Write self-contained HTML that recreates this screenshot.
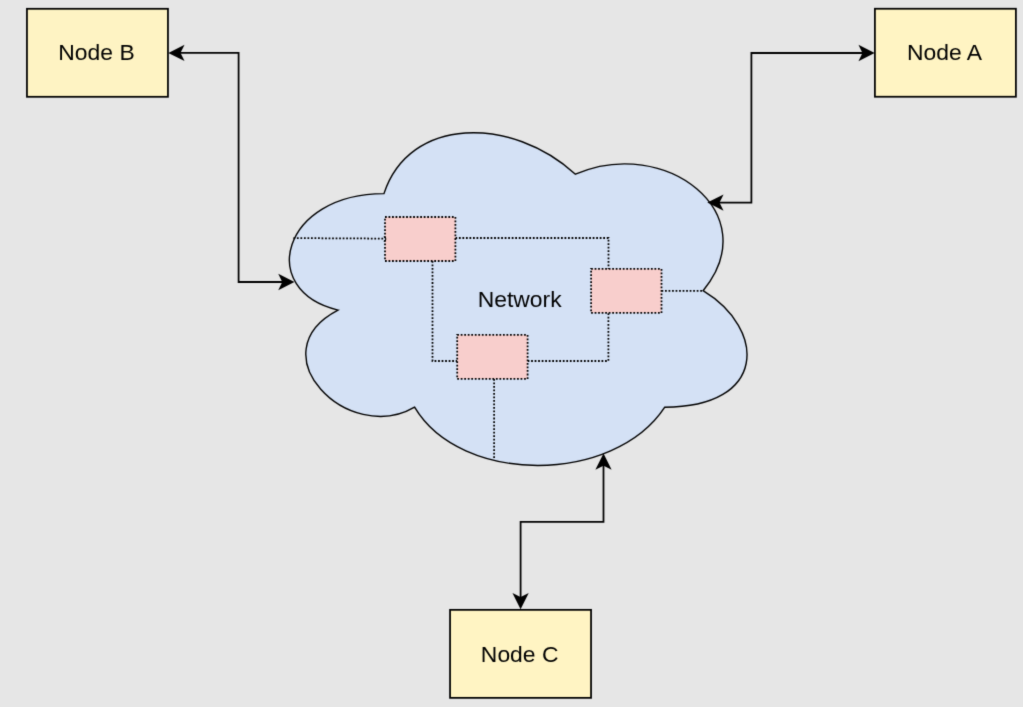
<!DOCTYPE html>
<html><head><meta charset="utf-8"><title>Network diagram</title>
<style>html,body{margin:0;padding:0;background:#e6e6e6;}body{width:1023px;height:707px;overflow:hidden;position:relative;font-family:"Liberation Sans",sans-serif;}</style>
</head><body>
<svg width="1023" height="707" viewBox="0 0 1023 707" style="position:absolute;left:0;top:0;will-change:transform;opacity:0.999">
<defs><filter id="soft" x="0" y="0" width="1023" height="707" filterUnits="userSpaceOnUse" color-interpolation-filters="sRGB"><feConvolveMatrix order="3" kernelMatrix="0.01440 0.09120 0.01440 0.09120 0.57760 0.09120 0.01440 0.09120 0.01440" divisor="1" edgeMode="duplicate" preserveAlpha="true"/></filter></defs>
<g filter="url(#soft)">
<rect width="1023" height="707" fill="#e6e6e6"/>
<rect x="26.95" y="8.80" width="141.00" height="88.00" fill="#fff4c3" stroke="#000" stroke-width="1.76"/>
<rect x="874.90" y="8.75" width="141.00" height="88.00" fill="#fff4c3" stroke="#000" stroke-width="1.76"/>
<rect x="450.05" y="609.85" width="141.00" height="88.00" fill="#fff4c3" stroke="#000" stroke-width="1.76"/>
<path d="M383.95 193.62 C281.83 193.62 256.30 290.70 338.00 310.12 C256.30 352.83 348.21 446.02 414.59 407.19 C460.54 484.85 613.72 484.85 664.78 407.19 C766.90 407.19 766.90 329.53 703.08 290.70 C766.90 213.04 664.78 135.38 575.42 174.21 C511.60 115.97 409.48 115.97 383.95 193.62 Z" fill="#d4e1f5" stroke="#000" stroke-width="1.40" stroke-miterlimit="10"/>
<path d="M293.40 238.10 L385.00 238.60" fill="none" stroke="#000" stroke-width="1.76" stroke-dasharray="1.76 1.76" stroke-miterlimit="10"/>
<path d="M455.40 238.00 L608.50 238.00 L608.50 268.90" fill="none" stroke="#000" stroke-width="1.76" stroke-dasharray="1.76 1.76" stroke-miterlimit="10"/>
<path d="M432.50 261.00 L432.50 361.00 L457.20 361.00" fill="none" stroke="#000" stroke-width="1.76" stroke-dasharray="1.76 1.76" stroke-miterlimit="10"/>
<path d="M527.60 361.00 L608.40 361.00 L608.40 312.90" fill="none" stroke="#000" stroke-width="1.76" stroke-dasharray="1.76 1.76" stroke-miterlimit="10"/>
<path d="M661.50 290.90 L703.20 290.90" fill="none" stroke="#000" stroke-width="1.76" stroke-dasharray="1.76 1.76" stroke-miterlimit="10"/>
<path d="M494.10 378.90 L494.10 459.00" fill="none" stroke="#000" stroke-width="1.76" stroke-dasharray="1.76 1.76" stroke-miterlimit="10"/>
<rect x="385.00" y="217.00" width="70.40" height="44.00" fill="#f8cecc" stroke="#000" stroke-width="1.76" stroke-dasharray="1.76 1.76"/>
<rect x="591.10" y="268.90" width="70.40" height="44.00" fill="#f8cecc" stroke="#000" stroke-width="1.76" stroke-dasharray="1.76 1.76"/>
<rect x="457.20" y="334.90" width="70.40" height="44.00" fill="#f8cecc" stroke="#000" stroke-width="1.76" stroke-dasharray="1.76 1.76"/>
<path d="M384.2 236.8 Q387.4 239.0 384.2 241.3" fill="none" stroke="#000" stroke-width="1.1" stroke-linecap="round"/>
<path d="M179.51 52.95 L238.60 52.95 L238.60 282.00 L283.29 282.00" fill="none" stroke="#000" stroke-width="1.76" stroke-miterlimit="10"/>
<path d="M170.27 52.95 L182.59 46.79 L179.51 52.95 L182.59 59.11 Z" fill="#000" stroke="#000" stroke-width="1.76" stroke-miterlimit="10"/>
<path d="M292.53 282.00 L280.21 288.16 L283.29 282.00 L280.21 275.84 Z" fill="#000" stroke="#000" stroke-width="1.76" stroke-miterlimit="10"/>

<path d="M863.49 53.00 L751.40 53.00 L751.40 202.60 L718.51 202.60" fill="none" stroke="#000" stroke-width="1.76" stroke-miterlimit="10"/>
<path d="M872.73 53.00 L860.41 59.16 L863.49 53.00 L860.41 46.84 Z" fill="#000" stroke="#000" stroke-width="1.76" stroke-miterlimit="10"/>
<path d="M709.27 202.60 L721.59 196.44 L718.51 202.60 L721.59 208.76 Z" fill="#000" stroke="#000" stroke-width="1.76" stroke-miterlimit="10"/>

<path d="M520.60 598.09 L520.60 521.80 L603.50 521.80 L603.50 464.61" fill="none" stroke="#000" stroke-width="1.76" stroke-miterlimit="10"/>
<path d="M520.60 607.33 L514.44 595.01 L520.60 598.09 L526.76 595.01 Z" fill="#000" stroke="#000" stroke-width="1.76" stroke-miterlimit="10"/>
<path d="M603.50 455.37 L609.66 467.69 L603.50 464.61 L597.34 467.69 Z" fill="#000" stroke="#000" stroke-width="1.76" stroke-miterlimit="10"/>

<text x="96.50" y="60.00" font-family="Liberation Sans, sans-serif" font-size="22.88" fill="#000" text-anchor="middle">Node B</text>
<text x="944.45" y="59.90" font-family="Liberation Sans, sans-serif" font-size="22.88" fill="#000" text-anchor="middle">Node A</text>
<text x="519.65" y="661.70" font-family="Liberation Sans, sans-serif" font-size="22.88" fill="#000" text-anchor="middle">Node C</text>
<text x="519.7" y="306.9" font-family="Liberation Sans, sans-serif" font-size="22.88" fill="#000" text-anchor="middle">Network</text>
</g></svg>
</body></html>
